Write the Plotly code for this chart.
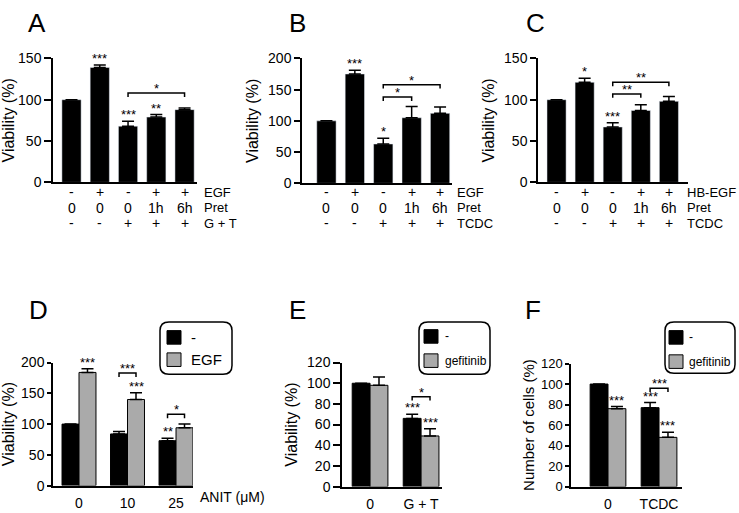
import plotly.graph_objects as go

W, H = 739, 513
FONT = "Liberation Sans, Arial, sans-serif"
GRAY = "#aaaaaa"

# ---- data ----
# A
a_egf = ["-", "+", "-", "+", "+"]
a_pret = ["0", "0", "0", "1h", "6h"]
a_gt = ["-", "-", "+", "+", "+"]
a_mean = [100, 139, 68, 79, 88]
a_err = [0, 3, 6, 3, 2]
a_stars = ["", "***", "***", "**", ""]

# B
b_egf = ["-", "+", "-", "+", "+"]
b_pret = ["0", "0", "0", "1h", "6h"]
b_tcdc = ["-", "-", "+", "+", "+"]
b_mean = [100, 175, 63, 105, 112]
b_err = [0, 6, 9, 18, 10]
b_stars = ["", "***", "*", "", ""]

# C
c_hbegf = ["-", "+", "-", "+", "+"]
c_pret = ["0", "0", "0", "1h", "6h"]
c_tcdc = ["-", "-", "+", "+", "+"]
c_mean = [100, 121, 67, 87, 98]
c_err = [0, 5, 5, 7, 6]
c_stars = ["", "*", "***", "", ""]

# D
d_cats = ["0", "10", "25"]
d_ctrl = [100, 84, 73]
d_ctrl_err = [0, 4, 4]
d_ctrl_stars = ["", "", "**"]
d_egf = [184, 140, 94]
d_egf_err = [6, 11, 6]
d_egf_stars = ["***", "***", ""]

# E
e_cats = ["0", "G + T"]
e_ctrl = [100, 66]
e_ctrl_err = [0, 4]
e_ctrl_stars = ["", "***"]
e_gef = [98, 49]
e_gef_err = [8, 7]
e_gef_stars = ["", "***"]

# F
f_cats = ["0", "TCDC"]
f_ctrl = [100, 77]
f_ctrl_err = [0, 5]
f_ctrl_stars = ["", "***"]
f_gef = [76, 48]
f_gef_err = [2, 5]
f_gef_stars = ["***", "***"]

# significance brackets: (from, to, height, label)
a_brackets = [(2, 4, 108, "*")]
b_brackets = [(2, 3, 138, "*"), (2, 4, 158, "*")]
c_brackets = [(2, 3, 107, "**"), (2, 4, 121, "**")]
# grouped panels: (group, height, label) -> bracket between the two bars
d_brackets = [(1, 183, "***"), (2, 116, "*")]
e_brackets = [(1, 87, "*")]
f_brackets = [(1, 96, "***")]


def xd(a, b):
    return [a / W, b / W]


def yd(top, bottom):
    return [1 - bottom / H, 1 - top / H]


def py(p):
    return 1 - p / H


fig = go.Figure()
annotations = []
shapes = []

# panel layout in pixels
panels = {
    1: dict(x=(53, 197), y=(52, 180), xr=(-0.655, 4.44), yr=(0, 150), dt=50, tl=7, tf=14),
    2: dict(x=(302, 452), y=(52, 181), xr=(-0.86, 4.42), yr=(0, 200), dt=50, tl=6, tf=14),
    3: dict(x=(538, 688), y=(52, 180), xr=(-0.66, 4.68), yr=(0, 150), dt=50, tl=6, tf=14),
    4: dict(x=(53, 193), y=(366, 493), xr=(-0.536, 2.35), yr=(0, 200), dt=50, tl=4, tf=14),
    5: dict(x=(342, 442), y=(366, 494), xr=(-0.55, 1.41), yr=(0, 120), dt=20, tl=7, tf=14),
    6: dict(x=(571, 682), y=(367, 494), xr=(-0.725, 1.45), yr=(0, 120), dt=20, tl=4, tf=13),
}


def err_dict(arr):
    return dict(type="data", array=arr, arrayminus=[0] * len(arr),
                symmetric=False, color="black", thickness=1.5, width=6)


def px_to_data(n, p):
    pp = panels[n]
    return p * (pp["yr"][1] - pp["yr"][0]) / (pp["y"][1] - pp["y"][0])


def add_stars(n, xs, tops, stars, size=13):
    for x, t, s in zip(xs, tops, stars):
        if s:
            annotations.append(dict(x=x, y=t, xref=f"x{n}", yref=f"y{n}",
                                    text=s, showarrow=False, yanchor="bottom",
                                    yshift=-3, font=dict(size=size)))


def add_bracket(n, x0, x1, h, label, size=13):
    d = px_to_data(n, 4)
    shapes.append(dict(type="path", xref=f"x{n}", yref=f"y{n}",
                       path=f"M{x0},{h - d} L{x0},{h} L{x1},{h} L{x1},{h - d}",
                       line=dict(color="black", width=1.5)))
    annotations.append(dict(x=(x0 + x1) / 2, y=h, xref=f"x{n}", yref=f"y{n}",
                            text=label, showarrow=False, yanchor="bottom",
                            yshift=-5, font=dict(size=size)))


def simple_panel(n, mean, err, stars, brackets, rows, names, name_x):
    idx = list(range(len(mean)))
    fig.add_trace(go.Bar(x=idx, y=mean, width=0.68, marker=dict(color="black"),
                         error_y=err_dict(err), showlegend=False,
                         xaxis=f"x{n}", yaxis=f"y{n}"))
    add_stars(n, idx, [m + e for m, e in zip(mean, err)], stars)
    for b in brackets:
        add_bracket(n, *b)
    for row, name, yp in zip(rows, names, [190, 206, 222]):
        for i, t in zip(idx, row):
            annotations.append(dict(x=i, y=py(yp), xref=f"x{n}", yref="paper",
                                    text=t, showarrow=False, yanchor="middle",
                                    font=dict(size=14)))
        annotations.append(dict(x=name_x / W, y=py(yp), xref="paper", yref="paper",
                                text=name, showarrow=False, xanchor="left",
                                yanchor="middle", font=dict(size=13)))


def group_panel(n, ctrl, ctrl_err, ctrl_stars, trt, trt_err, trt_stars,
                trt_name, brackets):
    idx = list(range(len(ctrl)))
    fig.add_trace(go.Bar(x=idx, y=ctrl, name="-", marker=dict(color="black",
                         line=dict(color="black", width=1)),
                         error_y=err_dict(ctrl_err), showlegend=False,
                         xaxis=f"x{n}", yaxis=f"y{n}"))
    fig.add_trace(go.Bar(x=idx, y=trt, name=trt_name, marker=dict(color=GRAY,
                         line=dict(color="black", width=1)),
                         error_y=err_dict(trt_err), showlegend=False,
                         xaxis=f"x{n}", yaxis=f"y{n}"))
    add_stars(n, [i - 0.175 for i in idx], [m + e for m, e in zip(ctrl, ctrl_err)], ctrl_stars)
    add_stars(n, [i + 0.175 for i in idx], [m + e for m, e in zip(trt, trt_err)], trt_stars)
    for g, h, lab in brackets:
        add_bracket(n, g - 0.175, g + 0.175, h, lab)


simple_panel(1, a_mean, a_err, a_stars, a_brackets, [a_egf, a_pret, a_gt],
             ["EGF", "Pret", "G + T"], 202)
simple_panel(2, b_mean, b_err, b_stars, b_brackets, [b_egf, b_pret, b_tcdc],
             ["EGF", "Pret", "TCDC"], 455)
simple_panel(3, c_mean, c_err, c_stars, c_brackets, [c_hbegf, c_pret, c_tcdc],
             ["HB-EGF", "Pret", "TCDC"], 685)
group_panel(4, d_ctrl, d_ctrl_err, d_ctrl_stars, d_egf, d_egf_err, d_egf_stars,
            "EGF", d_brackets)
group_panel(5, e_ctrl, e_ctrl_err, e_ctrl_stars, e_gef, e_gef_err, e_gef_stars,
            "gefitinib", e_brackets)
group_panel(6, f_ctrl, f_ctrl_err, f_ctrl_stars, f_gef, f_gef_err, f_gef_stars,
            "gefitinib", f_brackets)

titles = {1: "Viability (%)", 2: "Viability (%)", 3: "Viability (%)",
          4: "Viability (%)", 5: "Viability (%)", 6: "Number of cells (%)"}
xcats = {4: d_cats, 5: e_cats, 6: f_cats}

layout = {}
for n, p in panels.items():
    xa = dict(domain=xd(*p["x"]), range=list(p["xr"]), anchor=f"y{n}",
              showline=True, linecolor="black", linewidth=1.5,
              showgrid=False, zeroline=False, ticks="", fixedrange=True)
    if n in xcats:
        xa.update(tickvals=list(range(len(xcats[n]))), ticktext=xcats[n],
                  tickfont=dict(size=14), ticklabelstandoff=4)
    else:
        xa.update(showticklabels=False)
    ya = dict(domain=yd(*p["y"]), range=list(p["yr"]), anchor=f"x{n}",
              dtick=p["dt"], showline=True, linecolor="black", linewidth=1.5,
              ticks="outside", ticklen=p["tl"], tickwidth=1.5, tickcolor="black",
              showgrid=False, zeroline=False, tickfont=dict(size=p["tf"]),
              fixedrange=True,
              title=dict(text=titles[n], font=dict(size=16 if n != 6 else 15),
                         standoff=5 if n != 6 else 3))
    layout["xaxis" if n == 1 else f"xaxis{n}"] = xa
    layout["yaxis" if n == 1 else f"yaxis{n}"] = ya

# x axis title of D
annotations.append(dict(x=198 / W, y=py(505), xref="paper", yref="paper",
                        text="ANIT (μM)", showarrow=False, xanchor="left",
                        yanchor="middle", font=dict(size=14)))

# panel letters
for lab, cx, cy in [("A", 37, 15), ("B", 297, 15), ("C", 535, 15),
                    ("D", 38, 312), ("E", 297, 312), ("F", 533, 312)]:
    annotations.append(dict(x=cx / W, y=py(cy), xref="paper", yref="paper",
                            text=lab, showarrow=False, xanchor="center",
                            yanchor="middle", font=dict(size=26)))


def rounded_box(x0, y0, x1, y1, r=9):
    pts = [("M", x0 + r, y0), ("L", x1 - r, y0), ("Q", x1, y0, x1, y0 + r),
           ("L", x1, y1 - r), ("Q", x1, y1, x1 - r, y1), ("L", x0 + r, y1),
           ("Q", x0, y1, x0, y1 - r), ("L", x0, y0 + r), ("Q", x0, y0, x0 + r, y0)]
    s = ""
    for p in pts:
        c = p[1:]
        coords = " ".join(f"{c[i] / W:.5f},{py(c[i + 1]):.5f}" for i in range(0, len(c), 2))
        s += f"{p[0]}{coords} "
    return dict(type="path", xref="paper", yref="paper", path=s + "Z",
                line=dict(color="black", width=1.5))


def legend_box(box, sq_x, rows, text_x, size):
    shapes.append(rounded_box(*box))
    for (top, bottom), (label, color) in zip(rows[0], rows[1]):
        shapes.append(dict(type="rect", xref="paper", yref="paper",
                           x0=sq_x / W, x1=(sq_x + 14) / W, y0=py(bottom), y1=py(top),
                           fillcolor=color, line=dict(color="black", width=1)))
        annotations.append(dict(x=text_x / W, y=py((top + bottom) / 2),
                                xref="paper", yref="paper", text=label,
                                showarrow=False, xanchor="left", yanchor="middle",
                                font=dict(size=size)))


legend_box((160, 324, 232, 378), 167, ([(333, 347), (356, 370)],
           [("-", "black"), ("EGF", GRAY)]), 189, 15)
legend_box((419, 324, 490, 378), 424, ([(332, 346), (357, 371)],
           [("-", "black"), ("gefitinib", GRAY)]), 443, 12)
legend_box((665, 324, 735, 377), 669, ([(333, 347), (358, 372)],
           [("-", "black"), ("gefitinib", GRAY)]), 687, 12)

fig.update_layout(
    width=W, height=H, margin=dict(l=0, r=0, t=0, b=0),
    paper_bgcolor="white", plot_bgcolor="white",
    font=dict(family=FONT, color="black"),
    barmode="group", bargap=0.3, bargroupgap=0, showlegend=False,
    annotations=annotations, shapes=shapes, **layout)

fig.write_html("out.html", config={"displayModeBar": False},
               post_script="document.body.style.margin='0';")
